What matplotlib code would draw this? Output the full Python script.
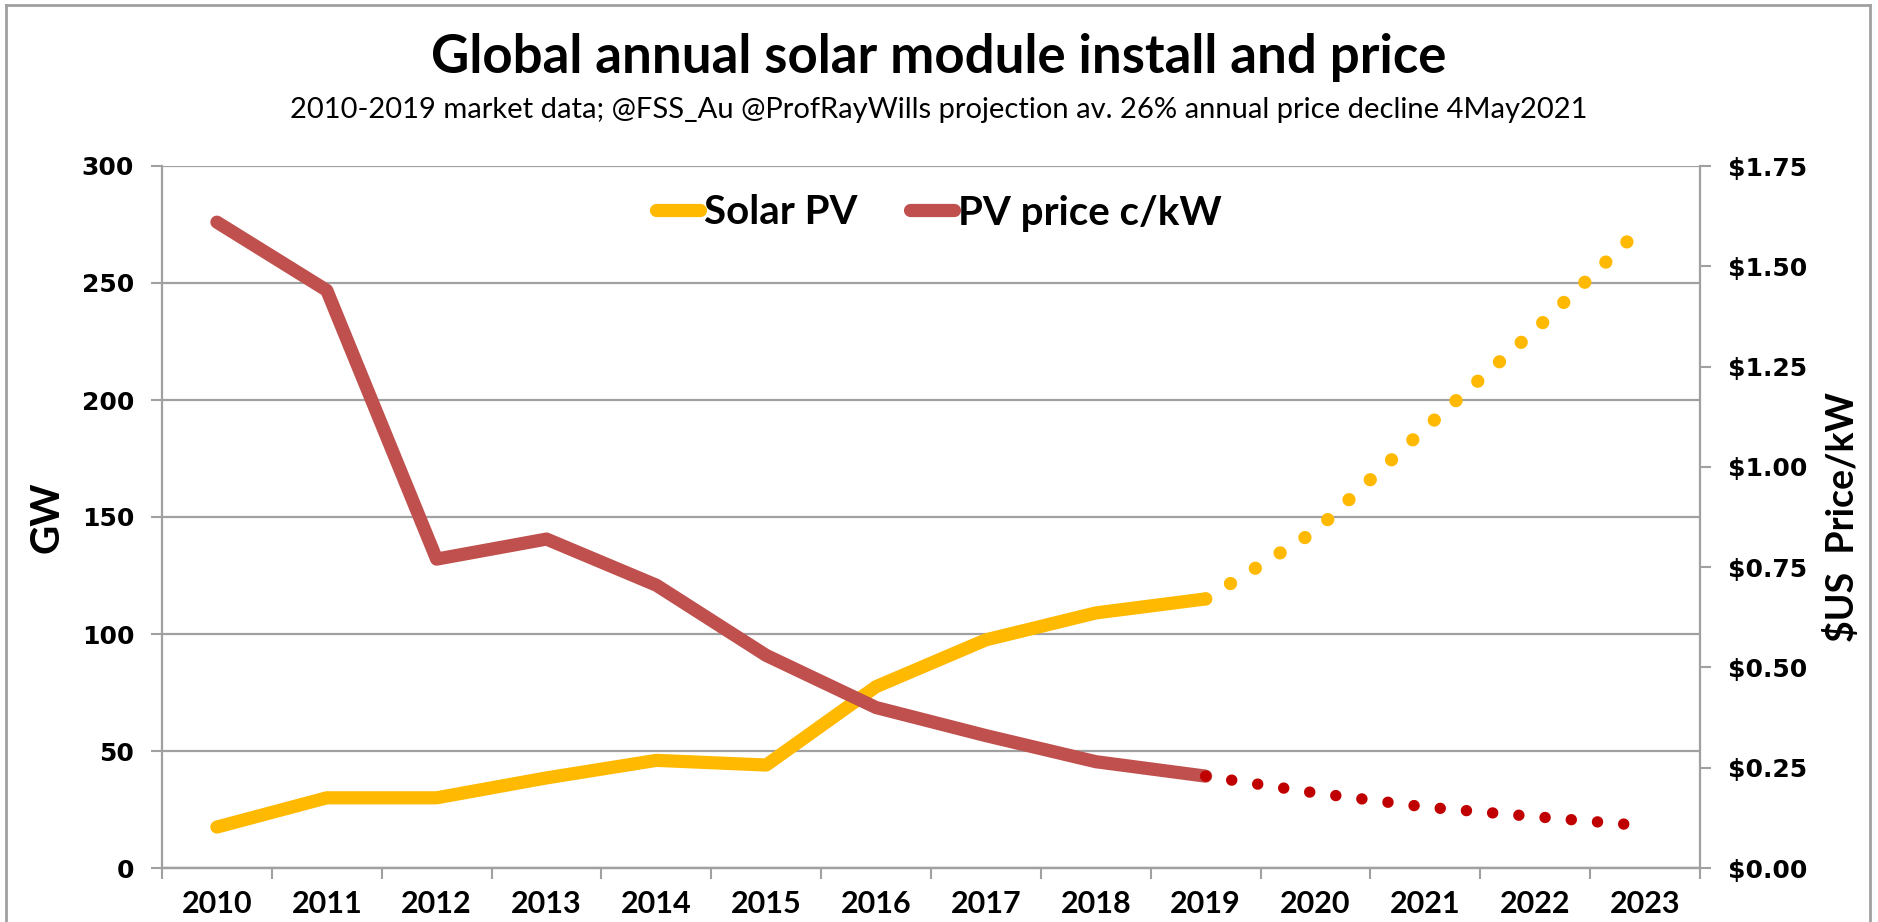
import numpy as np
import matplotlib.pyplot as plt
from matplotlib.lines import Line2D

# Data
years = ["2010", "2011", "2012", "2013", "2014", "2015", "2016",
         "2017", "2018", "2019", "2020", "2021", "2022", "2023"]
solar_gw = [17.5, 30, 30, 38.5, 46, 44, 77.5, 97.5, 109, 115]
solar_proj = [115, 144, 188, 230, 275]
price_usd = [1.61, 1.44, 0.77, 0.82, 0.705, 0.53, 0.40, 0.33, 0.265, 0.229]
price_proj = [0.229, 0.187, 0.152, 0.128, 0.105]

gw_ticks = [0, 50, 100, 150, 200, 250, 300]
price_ticks = [0, 0.25, 0.5, 0.75, 1.0, 1.25, 1.5, 1.75]

yellow = "#FFB900"
red = "#C0504D"
red_dots = "#C00000"
grey = "#A0A0A0"
narrow = ["Lato", "DejaVu Sans"]

fig = plt.figure(figsize=(18.78, 9.22), dpi=100)
ax = fig.add_axes([162 / 1878, 1 - 868 / 922, (1700 - 162) / 1878, (868 - 166) / 922])
ax2 = ax.twinx()

x_hist = np.arange(len(solar_gw))
x_proj = np.arange(len(solar_gw) - 1, len(years))

# Solar PV (GW, left axis)
ax.plot(x_hist, solar_gw, color=yellow, lw=9.5, solid_capstyle="round",
        solid_joinstyle="round", zorder=3)
ax.plot(x_proj, solar_proj, color=yellow, lw=9.5, linestyle=(0, (0.01, 2.2)),
        dash_capstyle="round", zorder=3)

# PV price ($/kW, right axis)
ax2.plot(x_hist, price_usd, color=red, lw=9.5, solid_capstyle="round",
         solid_joinstyle="round", zorder=3)
ax2.plot(x_proj, price_proj, color=red_dots, lw=8.2, linestyle=(0, (0.01, 2.3)),
         dash_capstyle="round", zorder=3)

# Axes setup
ax.set_xlim(-0.5, len(years) - 0.5)
ax.set_ylim(0, 300)
ax2.set_ylim(0, 1.75)
ax.set_yticks(gw_ticks)
ax.set_yticklabels([str(v) for v in gw_ticks], fontsize=18, fontweight="bold",
                   family="DejaVu Sans")
ax2.set_yticks(price_ticks)
ax2.set_yticklabels(["${:.2f}".format(v) for v in price_ticks], fontsize=18,
                    fontweight="bold", family="DejaVu Sans")

ax.set_xticks(np.arange(len(years) + 1) - 0.5)
ax.set_xticklabels([])
ax.set_xticks(np.arange(len(years)), minor=True)
ax.set_xticklabels(years, minor=True, fontsize=22, fontweight="bold", family=narrow)
ax.tick_params(axis="x", which="minor", length=0, pad=16)
ax.tick_params(axis="x", which="major", length=8, width=1.5, color=grey)
ax.tick_params(axis="y", length=8, width=1.5, color=grey, pad=12)
ax2.tick_params(axis="y", length=8, width=1.5, color=grey, pad=12)

ax.grid(axis="y", color=grey, lw=1.6)
ax.set_axisbelow(True)
for a in (ax, ax2):
    a.spines["top"].set_visible(False)
    for s in ("left", "right", "bottom"):
        a.spines[s].set_color(grey)
        a.spines[s].set_linewidth(1.6)
ax2.spines["left"].set_visible(False)
ax.spines["right"].set_visible(False)

ax.set_ylabel("GW", fontsize=29, fontweight="bold", family=narrow, labelpad=12)
ax2.set_ylabel("$US  Price/kW", fontsize=27, fontweight="bold", family=narrow,
               labelpad=12)

# Legend
handles = [Line2D([], [], color=yellow, lw=9.5, solid_capstyle="round"),
           Line2D([], [], color=red, lw=9.5, solid_capstyle="round")]
fig.legend(handles, ["Solar PV", "PV price c/kW"], loc="center",
           bbox_to_anchor=(0.5, 1 - 213 / 922), ncol=2, frameon=False,
           prop={"family": narrow, "weight": "bold", "size": 29},
           handlelength=1.1, handletextpad=0.1, columnspacing=1.3)

# Titles
fig.text(0.5, 1 - 57 / 922, "Global annual solar module install and price",
         ha="center", va="center", fontsize=38, fontweight="bold", family=narrow)
fig.text(0.5, 1 - 110 / 922,
         "2010-2019 market data; @FSS_Au @ProfRayWills projection av. 26% annual price decline 4May2021",
         ha="center", va="center", fontsize=21, family=narrow)

# Outer chart border
for xs, ys in [((6, 6), (0, 5)), ((6, 1870), (5, 5)), ((1870, 1870), (5, 0))]:
    fig.add_artist(Line2D([x / 1878 for x in xs], [1 - y / 922 if y else -0.01 for y in ys],
                          color=grey, lw=2, transform=fig.transFigure))

fig.savefig("out.png", dpi=100, facecolor="white")
